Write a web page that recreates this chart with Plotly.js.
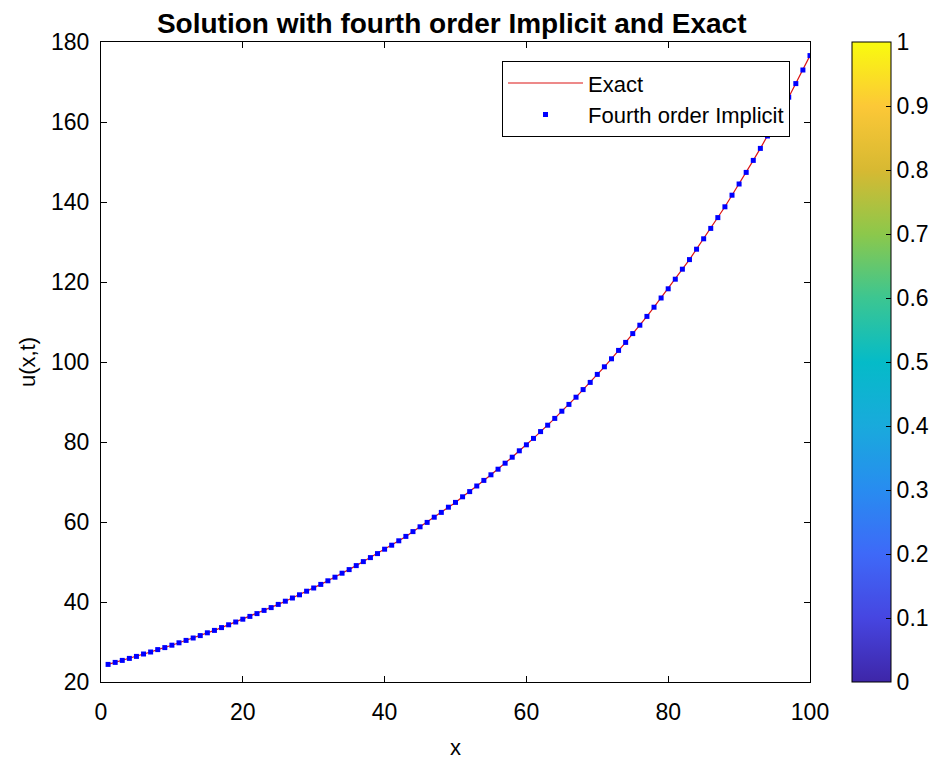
<!DOCTYPE html>
<html><head><meta charset="utf-8">
<script src="https://cdn.plot.ly/plotly-3.0.1.min.js"></script>
<style>html,body{margin:0;padding:0;background:#fff;}#plot{width:947px;height:762px;}</style>
</head><body><div id="plot"></div>
<script>
// x grid points
const xs = [1,2,3,4,5,6,7,8,9,10,11,12,13,14,15,16,17,18,19,20,21,22,23,24,25,26,27,28,29,30,
31,32,33,34,35,36,37,38,39,40,41,42,43,44,45,46,47,48,49,50,51,52,53,54,55,56,57,58,59,60,
61,62,63,64,65,66,67,68,69,70,71,72,73,74,75,76,77,78,79,80,81,82,83,84,85,86,87,88,89,90,
91,92,93,94,95,96,97,98,99,100];
// exact solution values
const exactU = [24.4,24.9,25.4,25.9,26.4,27.0,27.5,28.1,28.6,29.2,29.8,30.4,31.0,31.6,32.3,32.9,33.6,34.3,35.0,35.7,
36.4,37.1,37.9,38.6,39.4,40.2,41.0,41.8,42.7,43.5,44.4,45.3,46.2,47.2,48.1,49.1,50.1,51.1,52.1,53.2,
54.2,55.3,56.4,57.6,58.8,59.9,61.2,62.4,63.7,64.9,66.3,67.6,69.0,70.4,71.8,73.2,74.7,76.2,77.8,79.3,
80.9,82.6,84.2,85.9,87.7,89.4,91.2,93.1,94.9,96.9,98.8,100.8,102.9,104.9,107.1,109.2,111.4,113.7,116.0,118.3,
120.7,123.2,125.6,128.2,130.8,133.4,136.1,138.8,141.7,144.5,147.4,150.4,153.4,156.5,159.7,162.9,166.2,169.6,173.0,176.6];
// fourth order implicit values
const implicitU = [24.4,24.9,25.4,25.9,26.4,27.0,27.5,28.1,28.6,29.2,29.8,30.4,31.0,31.6,32.3,32.9,33.6,34.3,35.0,35.7,
36.4,37.1,37.9,38.6,39.4,40.2,41.0,41.8,42.7,43.5,44.4,45.3,46.2,47.2,48.1,49.1,50.1,51.1,52.1,53.2,
54.2,55.3,56.4,57.6,58.8,59.9,61.2,62.4,63.7,64.9,66.3,67.6,69.0,70.4,71.8,73.2,74.7,76.2,77.8,79.3,
80.9,82.6,84.2,85.9,87.7,89.4,91.2,93.1,94.9,96.9,98.8,100.8,102.9,104.9,107.1,109.2,111.4,113.7,116.0,118.3,
120.7,123.2,125.6,128.2,130.8,133.4,136.1,138.8,141.7,144.5,147.4,150.4,153.4,156.5,159.7,162.9,166.2,169.6,173.0,176.6];
const xTicks = [0,20,40,60,80,100];
const yTicks = [20,40,60,80,100,120,140,160,180];
const cbTicks = [0,0.1,0.2,0.3,0.4,0.5,0.6,0.7,0.8,0.9,1];
const cbLabels = ['0','0.1','0.2','0.3','0.4','0.5','0.6','0.7','0.8','0.9','1'];

const parula = [
 [0.0,'rgb(62,38,168)'],[0.1,'rgb(70,70,225)'],[0.2,'rgb(62,105,248)'],[0.3,'rgb(40,140,240)'],
 [0.4,'rgb(25,170,220)'],[0.5,'rgb(5,187,200)'],[0.6,'rgb(60,198,145)'],[0.7,'rgb(140,200,75)'],
 [0.8,'rgb(215,185,50)'],[0.9,'rgb(252,200,55)'],[1.0,'rgb(249,251,14)']];

const font = 'Arial, "Liberation Sans", sans-serif';

const traces = [
 {x: xs, y: exactU, type:'scatter', mode:'lines', name:'Exact',
  line:{color:'rgb(220,20,20)', width:1.2}},
 {x: xs, y: implicitU, type:'scatter', mode:'markers', name:'Fourth order Implicit',
  marker:{color:'rgb(0,0,255)', symbol:'square', size:5}},
 {x:[cbTicks[0], cbTicks[cbTicks.length-1]], y:[yTicks[0], yTicks[0]], type:'scatter', mode:'markers',
  showlegend:false, hoverinfo:'skip',
  marker:{size:0.1, opacity:0, color:[cbTicks[0], cbTicks[cbTicks.length-1]], cmin:0, cmax:1,
   colorscale: parula, showscale:true,
   colorbar:{x:1.059, xanchor:'left', xref:'paper', y:0, yanchor:'bottom', yref:'paper', len:1, lenmode:'fraction',
    thickness:39, thicknessmode:'pixels', outlinecolor:'#000', outlinewidth:1,
    ticks:'inside', ticklen:5, tickcolor:'#000', tickvals:cbTicks, ticktext:cbLabels,
    tickfont:{family:font, size:23, color:'#000'}, xpad:0, ypad:0, borderwidth:0}}}
];

const layout = {
 width:947, height:762,
 margin:{l:101, r:137, t:42, b:80},
 paper_bgcolor:'#fff', plot_bgcolor:'#fff',
 title:{text:'<b>Solution with fourth order Implicit and Exact</b>', x:0.477, xanchor:'center', y:0.97, yanchor:'middle',
  font:{family:font, size:28, color:'#000'}},
 xaxis:{range:[0,100], tickvals:xTicks, ticks:'inside', ticklen:6, tickcolor:'#000', showgrid:false, zeroline:false,
  showline:true, linecolor:'#000', linewidth:1, mirror:'ticks', ticklabelstandoff:9,
  tickfont:{family:font, size:23, color:'#000'},
  title:{text:'x', font:{family:font, size:22, color:'#000'}, standoff:16}},
 yaxis:{range:[20,180], tickvals:yTicks, ticks:'inside', ticklen:6, tickcolor:'#000', showgrid:false, zeroline:false,
  showline:true, linecolor:'#000', linewidth:1, mirror:'ticks', ticklabelstandoff:6,
  tickfont:{family:font, size:23, color:'#000'},
  title:{text:'u(x,t)', font:{family:font, size:22, color:'#000'}, standoff:9}},
 legend:{x:0.9718, xanchor:'right', y:0.97, yanchor:'top', bgcolor:'#fff', bordercolor:'#000', borderwidth:1,
  font:{family:font, size:22, color:'#000'}, itemwidth:75, tracegroupgap:0},
 showlegend:true
};

Plotly.newPlot('plot', traces, layout, {displayModeBar:false, staticPlot:true});
</script>
</body></html>
